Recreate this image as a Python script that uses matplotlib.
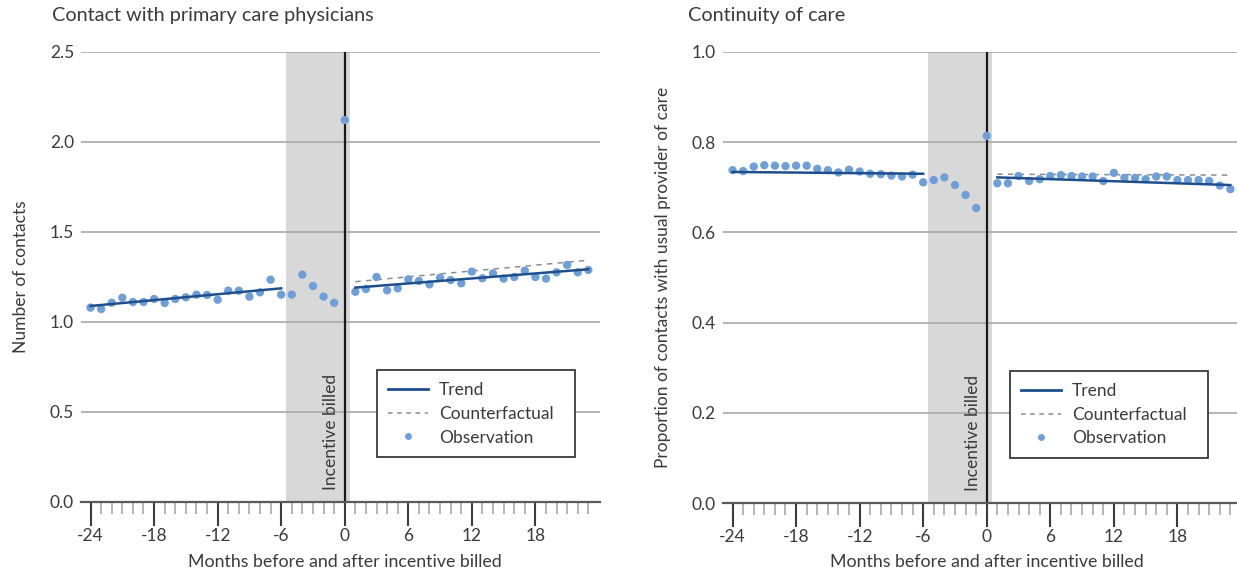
import matplotlib
matplotlib.use("Agg")
import matplotlib.pyplot as plt
from matplotlib.lines import Line2D
from matplotlib.ticker import FixedLocator
import matplotlib.transforms as mtransforms

plt.rcParams['font.family'] = ['Lato', 'DejaVu Sans']

# ---------------- data ----------------
months = list(range(-24, 24))

pc_obs = [1.080, 1.072, 1.107, 1.135, 1.111, 1.111, 1.128, 1.106, 1.128, 1.137,
          1.152, 1.150, 1.124, 1.174, 1.174, 1.141, 1.165, 1.235, 1.152, 1.152,
          1.263, 1.200, 1.141, 1.107,
          2.122,
          1.168, 1.183, 1.250, 1.176, 1.187, 1.237, 1.228, 1.209, 1.246, 1.233,
          1.215, 1.280, 1.243, 1.270, 1.241, 1.250, 1.285, 1.250, 1.241, 1.276,
          1.317, 1.276, 1.289]
pc_trend_pre_x = [-24, -6]
pc_trend_pre_y = [1.089, 1.187]
pc_trend_post_x = [1, 23]
pc_trend_post_y = [1.191, 1.293]
pc_cf_x = [1, 23]
pc_cf_y = [1.224, 1.343]

coc_obs = [0.738, 0.736, 0.746, 0.749, 0.748, 0.747, 0.748, 0.748, 0.741, 0.738,
           0.733, 0.739, 0.735, 0.730, 0.729, 0.726, 0.724, 0.728, 0.711, 0.716,
           0.722, 0.705, 0.683, 0.654,
           0.814,
           0.709, 0.709, 0.725, 0.714, 0.718, 0.725, 0.727, 0.725, 0.724, 0.724,
           0.714, 0.732, 0.721, 0.721, 0.718, 0.724, 0.724, 0.716, 0.716, 0.716,
           0.714, 0.704, 0.696]
coc_trend_pre_x = [-24, -6]
coc_trend_pre_y = [0.734, 0.730]
coc_trend_post_x = [1, 23]
coc_trend_post_y = [0.722, 0.705]
coc_cf_x = [1, 23]
coc_cf_y = [0.729, 0.727]

x_major = [-24, -18, -12, -6, 0, 6, 12, 18]
x_minor = list(range(-24, 24))
shade_range = (-5.5, 0.5)

pc_yticks = [0.0, 0.5, 1.0, 1.5, 2.0, 2.5]
coc_yticks = [0.0, 0.2, 0.4, 0.6, 0.8, 1.0]

titles = ["Contact with primary care physicians", "Continuity of care"]
ylabels = ["Number of contacts", "Proportion of contacts with usual provider of care"]
xlabel = "Months before and after incentive billed"
legend_labels = ["Trend", "Counterfactual", "Observation"]
event_label = "Incentive billed"

# ---------------- style ----------------
TREND = '#1f4e8d'
OBS = '#6e9fd8'
CF = '#8c8c8c'
TXT = '#3a3a3a'
GRID = '#a8a8a8'
FS = 12.5

W, H = 1237, 573
fig = plt.figure(figsize=(W / 100, H / 100), dpi=100)
axL = fig.add_axes([81 / W, 1 - 502 / H, 519 / W, 450 / H])
axR = fig.add_axes([723 / W, 1 - 503 / H, 519 / W, 451 / H])

panels = [
    (axL, pc_obs, pc_trend_pre_x, pc_trend_pre_y, pc_trend_post_x, pc_trend_post_y,
     pc_cf_x, pc_cf_y, pc_yticks, (0, 2.5), 0.570, 52),
    (axR, coc_obs, coc_trend_pre_x, coc_trend_pre_y, coc_trend_post_x, coc_trend_post_y,
     coc_cf_x, coc_cf_y, coc_yticks, (0, 1.0), 0.553, 688),
]

for i, (ax, obs, tpx, tpy, tqx, tqy, cfx, cfy, yt, ylim, legx, titlex) in enumerate(panels):
    ax.set_xlim(-24.9, 24.1)
    ax.set_ylim(*ylim)
    ax.set_axisbelow(True)
    ax.axvspan(*shade_range, color='#d9d8d9', lw=0, zorder=0.3)
    ax.yaxis.grid(True, color=GRID, lw=1.2)
    ax.axvline(0, color='#1a1a1a', lw=1.6, zorder=2)

    ax.plot(tpx, tpy, color=TREND, lw=1.8, zorder=4)
    ax.plot(tqx, tqy, color=TREND, lw=1.8, zorder=4)
    ax.plot(cfx, cfy, color=CF, lw=1.1, ls=(0, (3.5, 3.5)), zorder=3)
    ax.scatter(months, obs, s=36, color=OBS, edgecolors='none', zorder=3.5)

    for s in ['left', 'right', 'top']:
        ax.spines[s].set_visible(False)
    ax.spines['bottom'].set_color('#5a5a5a')
    ax.spines['bottom'].set_linewidth(1.6)
    ax.spines['bottom'].set_zorder(5)

    ax.xaxis.set_major_locator(FixedLocator(x_major))
    ax.xaxis.set_minor_locator(FixedLocator(x_minor))
    ax.set_xticklabels([str(v) for v in x_major])
    ax.tick_params(axis='x', which='major', length=17, width=1.5, color='#3c3c3c',
                   direction='out', pad=2, labelsize=FS, labelcolor=TXT)
    ax.tick_params(axis='x', which='minor', length=8.3, width=1.1, color='#a0a0a0',
                   direction='out')
    ax.set_yticks(yt)
    ax.set_yticklabels([f"{v:.1f}" for v in yt])
    ax.tick_params(axis='y', length=0, pad=5, labelsize=FS, labelcolor=TXT)

    ax.set_ylabel(ylabels[i], fontsize=FS, color=TXT, labelpad=15)

    trans = mtransforms.blended_transform_factory(ax.transData, fig.transFigure)
    ax.text(0, 1 - 562 / H, xlabel, transform=trans, ha='center', va='center',
            fontsize=12.8, color=TXT)
    fig.text(titlex / W, 1 - 16 / H, titles[i], ha='left', va='center',
             fontsize=14.3, color=TXT)

    tr2 = mtransforms.blended_transform_factory(ax.transData, ax.transAxes)
    ax.text(-1.25, 0.027, event_label, transform=tr2, rotation=90, ha='center',
            va='bottom', fontsize=FS, color=TXT, zorder=6)

    handles = [Line2D([], [], color=TREND, lw=2.0),
               Line2D([], [], color=CF, lw=1.1, ls=(0, (3, 3))),
               Line2D([], [], color=OBS, marker='o', ls='none', markersize=5,
                      markeredgewidth=0)]
    leg = ax.legend(handles, legend_labels, loc='lower left',
                    bbox_to_anchor=(legx, 0.1, 198 / 519, 0.19), mode='expand',
                    borderaxespad=0, frameon=True,
                    fancybox=False, framealpha=1, edgecolor='#2a2a2a',
                    fontsize=FS, handlelength=2.3, handletextpad=0.6,
                    labelspacing=0.45, borderpad=0.66)
    leg.get_frame().set_linewidth(1.2)
    leg.set_zorder(10)
    for t in leg.get_texts():
        t.set_color(TXT)

fig.savefig("out.png", dpi=100)
